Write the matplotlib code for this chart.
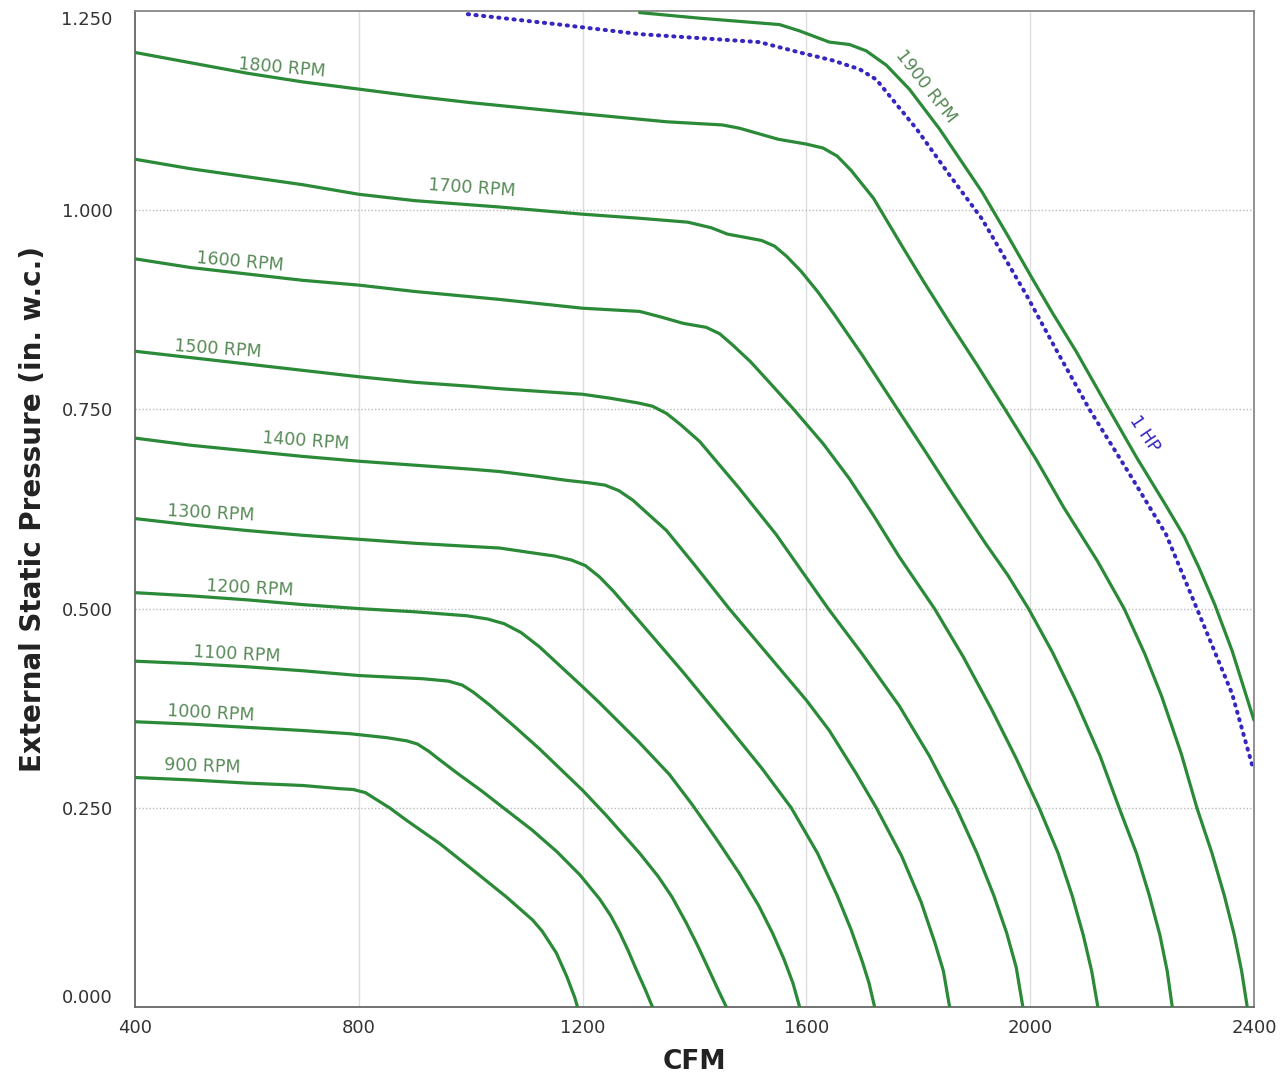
import numpy as np
import matplotlib
matplotlib.use("Agg")
import matplotlib.pyplot as plt

# fan curves (CFM, in. w.c.)
rpm_900_x = [400, 500, 600, 700, 766, 790, 812, 830, 855, 886, 945, 1004, 1064, 1111, 1128, 1153, 1172, 1186, 1191]
rpm_900_y = [0.288, 0.285, 0.281, 0.278, 0.274, 0.273, 0.269, 0.261, 0.25, 0.234, 0.205, 0.172, 0.138, 0.109, 0.095, 0.068, 0.038, 0.012, 0.0]

rpm_1000_x = [400, 500, 600, 700, 784, 850, 886, 905, 925, 945, 975, 1020, 1064, 1110, 1154, 1195, 1230, 1250, 1266, 1282, 1296, 1312, 1325]
rpm_1000_y = [0.358, 0.355, 0.351, 0.347, 0.343, 0.338, 0.334, 0.33, 0.321, 0.31, 0.294, 0.271, 0.247, 0.222, 0.195, 0.166, 0.136, 0.115, 0.094, 0.07, 0.047, 0.022, 0.0]

rpm_1100_x = [400, 500, 600, 700, 800, 914, 960, 985, 1005, 1034, 1080, 1123, 1200, 1243, 1302, 1335, 1360, 1385, 1405, 1425, 1442, 1457]
rpm_1100_y = [0.434, 0.431, 0.427, 0.422, 0.416, 0.412, 0.409, 0.404, 0.395, 0.379, 0.351, 0.324, 0.272, 0.24, 0.193, 0.164, 0.138, 0.106, 0.078, 0.048, 0.022, 0.0]

rpm_1200_x = [400, 500, 600, 700, 800, 900, 993, 1030, 1060, 1090, 1123, 1160, 1200, 1230, 1300, 1355, 1396, 1440, 1480, 1515, 1540, 1560, 1576, 1588]
rpm_1200_y = [0.52, 0.516, 0.511, 0.505, 0.5, 0.496, 0.491, 0.487, 0.481, 0.47, 0.452, 0.428, 0.402, 0.382, 0.333, 0.292, 0.254, 0.21, 0.168, 0.127, 0.092, 0.06, 0.03, 0.0]

rpm_1300_x = [400, 500, 600, 700, 800, 900, 1000, 1052, 1110, 1150, 1180, 1205, 1230, 1255, 1282, 1330, 1380, 1421, 1468, 1520, 1573, 1620, 1655, 1680, 1700, 1712, 1722]
rpm_1300_y = [0.613, 0.605, 0.598, 0.592, 0.587, 0.582, 0.578, 0.576, 0.57, 0.566, 0.561, 0.554, 0.54, 0.522, 0.5, 0.461, 0.42, 0.385, 0.345, 0.3, 0.25, 0.193, 0.14, 0.097, 0.057, 0.03, 0.0]

rpm_1400_x = [400, 500, 600, 700, 800, 900, 1000, 1052, 1120, 1171, 1210, 1240, 1265, 1290, 1320, 1350, 1400, 1462, 1552, 1600, 1641, 1690, 1725, 1770, 1805, 1830, 1845, 1856]
rpm_1400_y = [0.714, 0.705, 0.698, 0.691, 0.685, 0.68, 0.675, 0.672, 0.666, 0.661, 0.658, 0.655, 0.648, 0.636, 0.617, 0.598, 0.555, 0.5, 0.425, 0.385, 0.347, 0.292, 0.25, 0.19, 0.132, 0.08, 0.045, 0.0]

rpm_1500_x = [400, 500, 600, 700, 800, 900, 1000, 1052, 1200, 1250, 1300, 1325, 1350, 1375, 1409, 1480, 1546, 1639, 1700, 1766, 1820, 1868, 1905, 1935, 1958, 1975, 1987]
rpm_1500_y = [0.823, 0.815, 0.807, 0.799, 0.791, 0.784, 0.779, 0.776, 0.769, 0.764, 0.758, 0.754, 0.745, 0.731, 0.71, 0.651, 0.593, 0.5, 0.443, 0.378, 0.315, 0.25, 0.193, 0.14, 0.093, 0.05, 0.0]

rpm_1600_x = [400, 500, 600, 700, 800, 900, 1052, 1200, 1302, 1340, 1380, 1421, 1445, 1468, 1500, 1530, 1575, 1630, 1677, 1720, 1766, 1829, 1880, 1930, 1975, 2016, 2050, 2075, 2095, 2110, 2121]
rpm_1600_y = [0.939, 0.928, 0.92, 0.912, 0.906, 0.898, 0.888, 0.877, 0.873, 0.866, 0.858, 0.853, 0.845, 0.831, 0.81, 0.787, 0.752, 0.707, 0.663, 0.617, 0.565, 0.5, 0.44, 0.375, 0.312, 0.25, 0.193, 0.14, 0.09, 0.045, 0.0]

rpm_1700_x = [400, 500, 600, 700, 800, 900, 1052, 1200, 1300, 1388, 1430, 1459, 1490, 1520, 1543, 1565, 1591, 1620, 1650, 1700, 1766, 1810, 1856, 1920, 1960, 1997, 2040, 2080, 2125, 2159, 2190, 2213, 2232, 2245, 2254]
rpm_1700_y = [1.064, 1.052, 1.042, 1.032, 1.02, 1.012, 1.004, 0.995, 0.99, 0.985, 0.978, 0.97, 0.966, 0.962, 0.955, 0.942, 0.923, 0.898, 0.869, 0.818, 0.747, 0.7, 0.65, 0.582, 0.542, 0.5, 0.445, 0.387, 0.315, 0.25, 0.193, 0.14, 0.09, 0.045, 0.0]

rpm_1800_x = [400, 500, 600, 700, 800, 900, 1000, 1100, 1200, 1350, 1450, 1480, 1510, 1550, 1600, 1630, 1655, 1680, 1720, 1771, 1810, 1855, 1905, 1957, 2010, 2060, 2120, 2168, 2205, 2235, 2270, 2298, 2325, 2347, 2365, 2378, 2388]
rpm_1800_y = [1.198, 1.185, 1.172, 1.161, 1.152, 1.143, 1.135, 1.128, 1.121, 1.111, 1.107, 1.103, 1.097, 1.089, 1.083, 1.078, 1.068, 1.05, 1.015, 0.955, 0.91, 0.86, 0.806, 0.748, 0.688, 0.627, 0.56, 0.5, 0.443, 0.39, 0.318, 0.25, 0.193, 0.14, 0.09, 0.045, 0.0]

rpm_1900_x = [1302, 1409, 1552, 1588, 1641, 1677, 1707, 1743, 1784, 1838, 1914, 1960, 2004, 2040, 2082, 2141, 2190, 2243, 2275, 2302, 2330, 2361, 2400]
rpm_1900_y = [1.248, 1.241, 1.233, 1.225, 1.211, 1.208, 1.2, 1.182, 1.152, 1.102, 1.023, 0.968, 0.914, 0.871, 0.823, 0.75, 0.69, 0.629, 0.591, 0.551, 0.505, 0.447, 0.36]

hp1_x = [995, 1159, 1302, 1409, 1516, 1588, 1647, 1695, 1725, 1754, 1797, 1856, 1914, 1993, 2048, 2106, 2182, 2243, 2298, 2361, 2397]
hp1_y = [1.246, 1.233, 1.221, 1.216, 1.211, 1.198, 1.188, 1.177, 1.164, 1.139, 1.102, 1.044, 0.989, 0.894, 0.823, 0.75, 0.664, 0.593, 0.5, 0.393, 0.303]

curves = [
    (rpm_900_x, rpm_900_y), (rpm_1000_x, rpm_1000_y), (rpm_1100_x, rpm_1100_y),
    (rpm_1200_x, rpm_1200_y), (rpm_1300_x, rpm_1300_y), (rpm_1400_x, rpm_1400_y),
    (rpm_1500_x, rpm_1500_y), (rpm_1600_x, rpm_1600_y), (rpm_1700_x, rpm_1700_y),
    (rpm_1800_x, rpm_1800_y), (rpm_1900_x, rpm_1900_y),
]

# label text, position (CFM, in. w.c.), rotation
labels = ["900 RPM", "1000 RPM", "1100 RPM", "1200 RPM", "1300 RPM", "1400 RPM",
          "1500 RPM", "1600 RPM", "1700 RPM", "1800 RPM", "1900 RPM"]
label_x = [520, 536, 582, 605, 536, 705, 548, 588, 1002, 662, 1813]
label_y = [0.302, 0.369, 0.443, 0.526, 0.620, 0.710, 0.826, 0.935, 1.028, 1.179, 1.156]
label_rot = [-2, -3, -3, -3, -3, -4, -4, -5, -4, -5, -52]

x_ticks = [400, 800, 1200, 1600, 2000, 2400]
y_ticks = [0.0, 0.25, 0.5, 0.75, 1.0, 1.25]

green = "#2b8a37"
label_green = "#588a58"
blue = "#3526c0"

fig = plt.figure(figsize=(12.84, 10.8), dpi=100)
ax = fig.add_axes([0.1051, 0.0676, 0.8715, 0.9222])

for x, y in curves:
    ax.plot(x, y, color=green, lw=2.3, solid_capstyle="round",
            solid_joinstyle="round", zorder=3)

ax.plot(hp1_x, hp1_y, color=blue, lw=2.9, linestyle=(0, (0.3, 1.6)),
        dash_capstyle="round", zorder=2)

for t, lx, ly, r in zip(labels, label_x, label_y, label_rot):
    ax.text(lx, ly, t, color=label_green, fontsize=12.5, rotation=r,
            rotation_mode="anchor", ha="center", va="center", zorder=4)
ax.text(2204, 0.719, "1 HP", color=blue, fontsize=12.5, rotation=-56,
        rotation_mode="anchor", ha="center", va="center", zorder=4)

ax.set_xlim(400, 2400)
ax.set_ylim(0, 1.25)
ax.set_xticks(x_ticks)
ax.set_yticks(y_ticks)
ax.set_xticklabels([str(v) for v in x_ticks])
ax.set_yticklabels(["%.3f" % v for v in y_ticks])
ax.tick_params(length=0, labelsize=13, labelcolor="#333333")
ax.tick_params(axis="x", pad=9)
ax.tick_params(axis="y", pad=16)
yl = ax.get_yticklabels()
yl[0].set_va("bottom")
yl[-1].set_va("top")

for v in x_ticks[1:-1]:
    ax.axvline(v, color="#dddddd", lw=1, zorder=1)
for v in y_ticks[1:-1]:
    ax.axhline(v, color="#bbbbbb", lw=1, linestyle=(0, (1, 1.5)), zorder=1)

for side in ["left", "bottom"]:
    ax.spines[side].set_color("#666666")
    ax.spines[side].set_linewidth(1.3)
for side in ["top", "right"]:
    ax.spines[side].set_color("#888888")
    ax.spines[side].set_linewidth(1.3)

ax.set_xlabel("CFM", fontsize=19, fontweight="bold", color="#222222", labelpad=8)
ax.set_ylabel("External Static Pressure (in. w.c.)", fontsize=20, fontweight="bold",
              color="#222222", labelpad=10)

fig.savefig("out.png", dpi=100)
